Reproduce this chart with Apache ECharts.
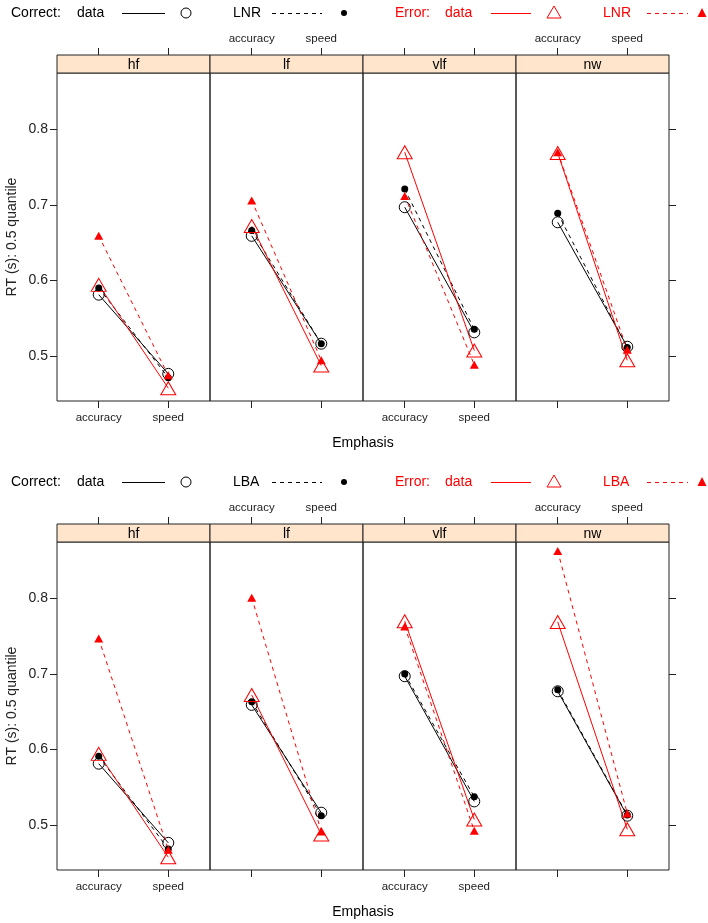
<!DOCTYPE html>
<html><head><meta charset="utf-8">
<script src="https://cdn.jsdelivr.net/npm/echarts@6/dist/echarts.min.js"></script>
<style>html,body{margin:0;padding:0;background:#fff}#c{width:708px;height:923px}</style>
</head><body><div id="c"></div>
<script>
// ---- data ----
const panels = ['hf', 'lf', 'vlf', 'nw'];
const emphasisLevels = ['accuracy', 'speed'];
const yTickValues = [0.5, 0.6, 0.7, 0.8];
const models = ['LNR', 'LBA'];
// observed 0.5 quantile RT, per panel: [accuracy, speed]
const correctData = [[0.581, 0.476], [0.659, 0.516], [0.697, 0.531], [0.677, 0.512]];
const errorData   = [[0.594, 0.457], [0.672, 0.487], [0.770, 0.507], [0.769, 0.494]];
// LNR model predictions
const lnrCorrect = [[0.590, 0.471], [0.666, 0.516], [0.721, 0.535], [0.689, 0.511]];
const lnrError   = [[0.659, 0.474], [0.706, 0.494], [0.712, 0.488], [0.770, 0.508]];
// LBA model predictions
const lbaCorrect = [[0.591, 0.468], [0.663, 0.512], [0.700, 0.537], [0.679, 0.513]];
const lbaError   = [[0.747, 0.467], [0.801, 0.491], [0.763, 0.492], [0.863, 0.515]];
const modelCorrect = [lnrCorrect, lbaCorrect];
const modelError = [lnrError, lbaError];

// ---- layout ----
const L = 57, PW = 153, PH = 328, STRIP = 18, SHIFT = 469;
const TOPS = [73, 73 + SHIFT];
const FONT = 'Liberation Sans, Arial, sans-serif';
const RED = '#FF0000';

const grids = [], xAxes = [], yAxes = [], series = [], graphics = [];
const xFmt = v => emphasisLevels[Math.round(v) - 1] || '';

for (let p = 0; p < 2; p++) {
  for (let i = 0; i < 4; i++) {
    const g = p * 4 + i;
    grids.push({left: L + i * PW, top: TOPS[p], width: PW, height: PH, show: true,
      borderColor: '#222', borderWidth: 1, backgroundColor: 'transparent',
      containLabel: false, outerBoundsMode: 'none'});
    const xBase = {type: 'value', gridIndex: g, min: 0.4, max: 2.6,
      axisLine: {show: false}, splitLine: {show: false},
      axisTick: {show: true, customValues: [1, 2], length: 7, lineStyle: {color: '#222'}},
    };
    xAxes.push(Object.assign({}, xBase, {position: 'top', offset: STRIP,
      axisLabel: {show: i % 2 === 1, customValues: [1, 2], formatter: xFmt, fontSize: 11.5,
        fontFamily: FONT, color: '#222', margin: 10}}));
    xAxes.push(Object.assign({}, xBase, {position: 'bottom',
      axisLabel: {show: i % 2 === 0, customValues: [1, 2], formatter: xFmt, fontSize: 11.5,
        fontFamily: FONT, color: '#222', margin: 11}}));
    yAxes.push({type: 'value', gridIndex: g, min: 0.44, max: 0.875,
      position: i === 3 ? 'right' : 'left', show: i === 0 || i === 3,
      axisLine: {show: false}, splitLine: {show: false},
      axisTick: {show: true, customValues: yTickValues, length: 7, lineStyle: {color: '#222'}},
      axisLabel: {show: i === 0, customValues: yTickValues, formatter: v => v.toFixed(1),
        fontSize: 14, fontFamily: FONT, color: '#222', margin: 9},
      name: i === 0 ? 'RT (s): 0.5 quantile' : '', nameLocation: 'middle', nameRotate: 90,
      nameGap: 38, nameTextStyle: {fontSize: 14, fontFamily: FONT, color: '#222'}});

    const mk = (name, vals, color, dashed, symbol, size, filled) => ({
      type: 'line', name: name, xAxisIndex: 2 * g + 1, yAxisIndex: g,
      data: emphasisLevels.map((_, k) => [k + 1, vals[k]]),
      symbol: symbol, symbolSize: size, showSymbol: true,
      lineStyle: {color: color, width: 1, type: dashed ? [4, 4] : 'solid'},
      itemStyle: filled ? {color: color, borderWidth: 0}
                        : {color: '#fff', opacity: 1, borderColor: color, borderWidth: 1},
      emphasis: {disabled: true}, silent: true, z: 2
    });
    series.push(mk('Correct: data', correctData[i], '#000', false, 'circle', 11, false));
    series.push(mk('Correct: ' + models[p], modelCorrect[p][i], '#000', true, 'circle', 7, true));
    series.push(mk('Error: data', errorData[i], RED, false, 'triangle', [15, 13], false));
    series.push(mk('Error: ' + models[p], modelError[p][i], RED, true, 'triangle', [9, 8], true));
    // make open markers see-through
    series[series.length - 4].itemStyle.color = 'rgba(255,255,255,0)';
    series[series.length - 2].itemStyle.color = 'rgba(255,255,255,0)';

    // strip
    graphics.push({type: 'rect', shape: {x: L + i * PW, y: TOPS[p] - STRIP, width: PW, height: STRIP},
      style: {fill: '#FFE5CC', stroke: '#222', lineWidth: 1}, z: 10});
    graphics.push({type: 'text', z: 11, style: {text: panels[i], x: L + i * PW + PW / 2,
      y: TOPS[p] - STRIP / 2 + 1, align: 'center', verticalAlign: 'middle',
      font: '14px ' + FONT, fill: '#000'}});
  }
  // x axis title
  graphics.push({type: 'text', style: {text: 'Emphasis', x: L + 2 * PW, y: 443 + p * SHIFT,
    align: 'center', verticalAlign: 'middle', font: '14px ' + FONT, fill: '#000'}});

  // legend
  const ly = 13 + p * SHIFT;
  const txt = (t, x, c) => graphics.push({type: 'text', style: {text: t, x: x, y: ly,
    align: 'left', verticalAlign: 'middle', font: '14px ' + FONT, fill: c}});
  const ln = (x1, x2, c, dashed) => graphics.push({type: 'line', shape: {x1: x1, y1: ly + 0.5, x2: x2, y2: ly + 0.5},
    style: {stroke: c, lineWidth: 1, lineDash: dashed ? [4, 4] : null}});
  txt('Correct:', 11, '#000'); txt('data', 77, '#000'); ln(122, 165, '#000', false);
  graphics.push({type: 'circle', shape: {cx: 186, cy: ly, r: 5}, style: {fill: 'none', stroke: '#000', lineWidth: 1}});
  txt(models[p], 233, '#000'); ln(272, 322, '#000', true);
  graphics.push({type: 'circle', shape: {cx: 344, cy: ly, r: 3}, style: {fill: '#000'}});
  txt('Error:', 395, RED); txt('data', 445, RED); ln(491, 531, RED, false);
  graphics.push({type: 'polygon', shape: {points: [[554, ly - 7], [561, ly + 5], [547, ly + 5]]},
    style: {fill: 'none', stroke: RED, lineWidth: 1}});
  txt(models[p], 603, RED); ln(647, 688, RED, true);
  graphics.push({type: 'polygon', shape: {points: [[702, ly - 5], [706.5, ly + 4], [697.5, ly + 4]]},
    style: {fill: RED}});
}

const chart = echarts.init(document.getElementById('c'), null, {renderer: 'canvas'});
chart.setOption({
  backgroundColor: '#fff', animation: false,
  grid: grids, xAxis: xAxes, yAxis: yAxes, series: series,
  graphic: {elements: graphics}, tooltip: {show: false}
});
</script></body></html>
